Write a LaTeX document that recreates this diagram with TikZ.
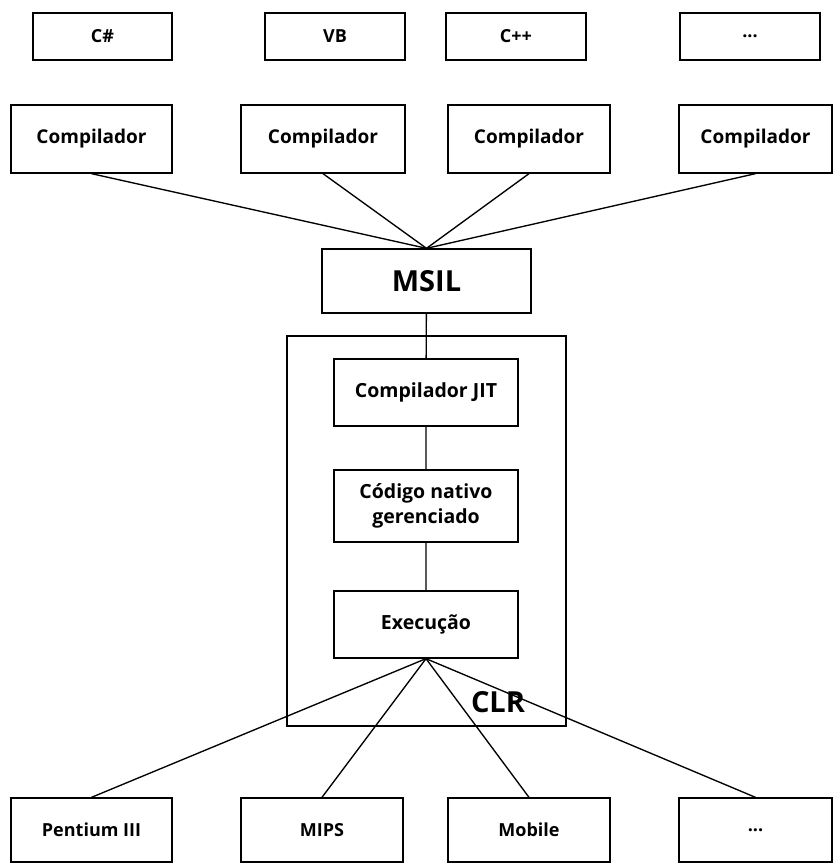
\documentclass[tikz,border=0pt]{standalone}
\usepackage{fontspec}
\setmainfont{Open Sans}
\tikzset{box/.style={draw,line width=1.3pt,inner sep=0pt,align=center,font=\bfseries\fontsize{19}{24}\selectfont},
  small/.style={box,font=\bfseries\fontsize{18}{24}\selectfont},
  inner/.style={box,font=\bfseries\fontsize{19.5}{25}\selectfont}}

\begin{document}
\begin{tikzpicture}[x=1pt,y=-1pt,line width=1.35pt]
  \useasboundingbox (0,0) rectangle (833,864);
  % languages
  \node[small,minimum width=139,minimum height=47] (cs) at (102.5,36.5) {C\#};
  \node[small,minimum width=140,minimum height=47] (vb) at (335,36.5) {VB};
  \node[small,minimum width=140,minimum height=47] (cpp) at (516,36.5) {C++};
  \node[small,minimum width=140,minimum height=47] (ldots) at (750,36.5) {...};
  % compilers
  \node[box,minimum width=161,minimum height=68] (comp1) at (91.5,139) {Compilador};
  \node[box,minimum width=164,minimum height=68] (comp2) at (323,139) {Compilador};
  \node[box,minimum width=162,minimum height=68] (comp3) at (529,139) {Compilador};
  \node[box,minimum width=153,minimum height=68] (comp4) at (755.5,139) {Compilador};
  \node[box,minimum width=209,minimum height=64,font=\bfseries\fontsize{29}{34}\selectfont] (msil) at (426.5,281) {MSIL};
  \foreach \c in {comp1,comp2,comp3,comp4}
    \draw (\c.south) -- (msil.north);
  % CLR
  \draw (287,336) rectangle (566,726);
  \node[font=\bfseries\fontsize{29}{34}\selectfont] (clr) at (498,702) {CLR};
  \node[inner,minimum width=184,minimum height=67] (jit) at (426,392.5) {Compilador JIT};
  \node[inner,minimum width=184,minimum height=72] (nat) at (426,506) {Código nativo\\gerenciado};
  \node[inner,minimum width=184,minimum height=67] (exe) at (426,624.5) {Execução};
  \draw (msil) -- (jit) -- (nat) -- (exe);
  % platforms
  \node[small,minimum width=161,minimum height=64] (pent) at (91.5,830) {Pentium III};
  \node[small,minimum width=162,minimum height=64] (mips) at (322,830) {MIPS};
  \node[small,minimum width=162,minimum height=64] (mob) at (529,830) {Mobile};
  \node[small,minimum width=153,minimum height=64] (pdots) at (755.5,830) {...};
  \foreach \p in {pent,mips,mob,pdots}
    \draw (exe.south) -- (\p.north);
\end{tikzpicture}
\end{document}
